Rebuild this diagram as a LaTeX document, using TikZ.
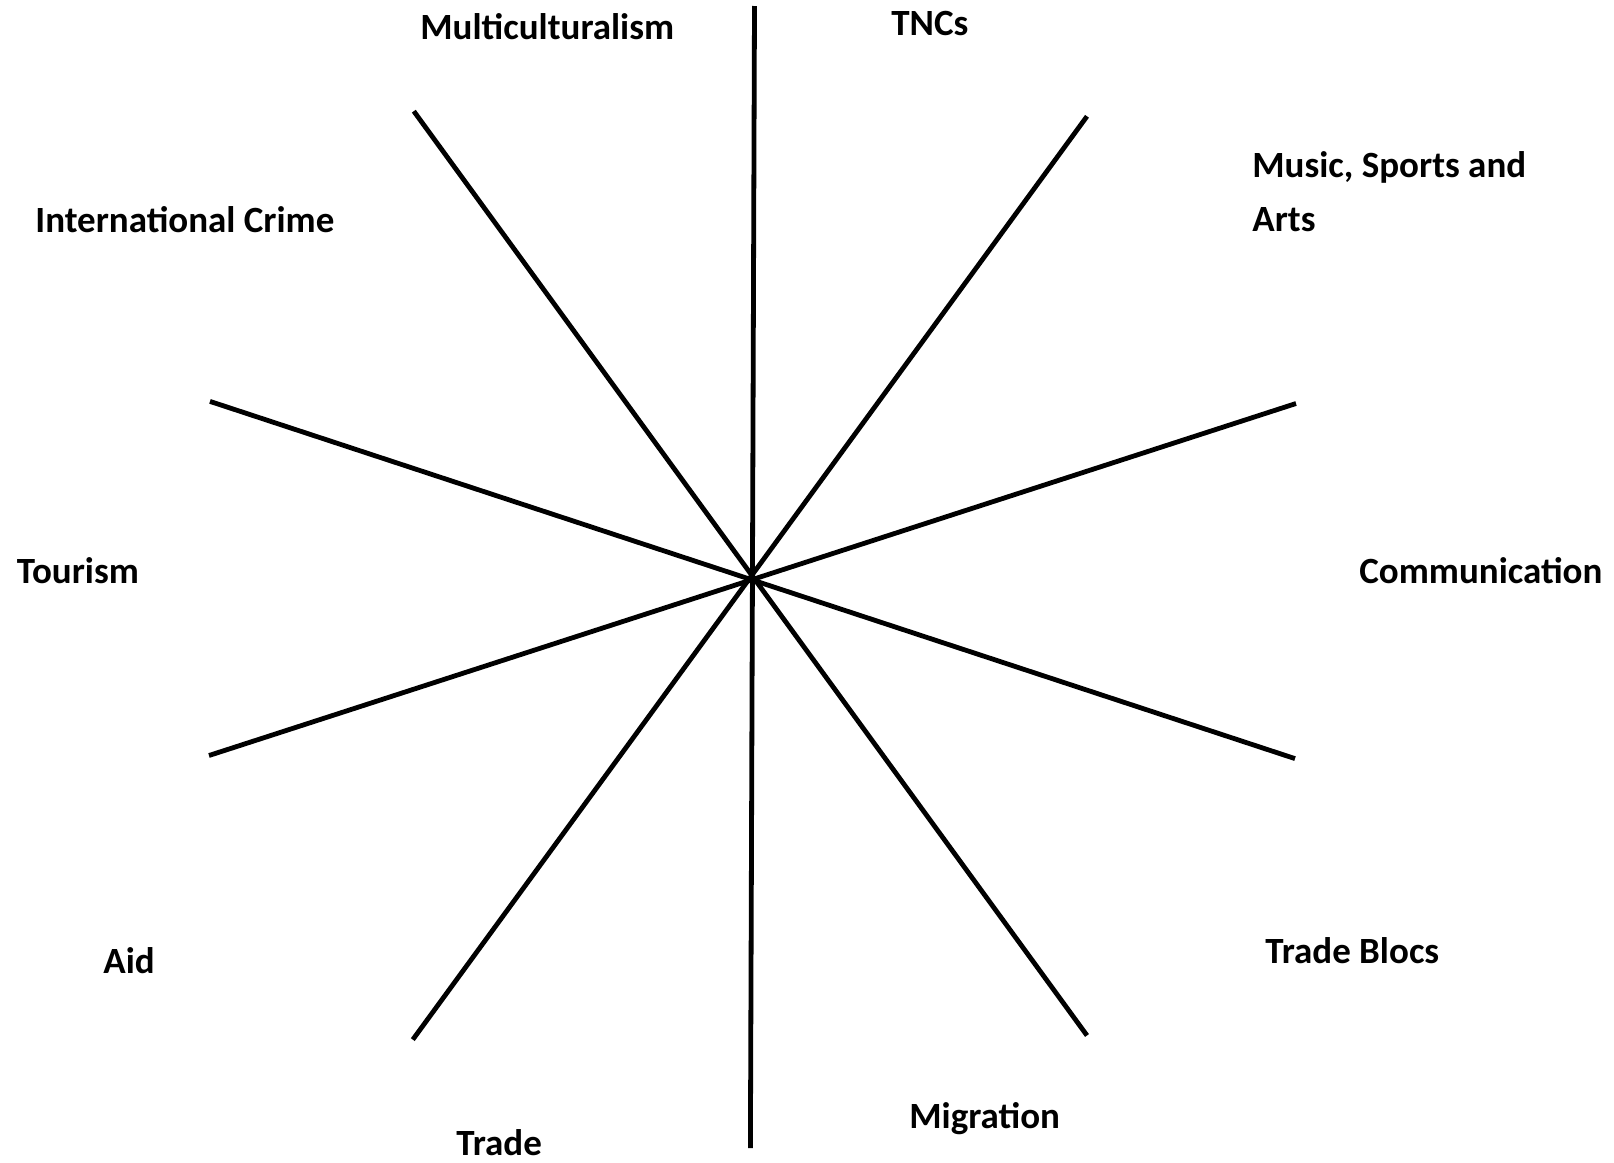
\documentclass[tikz,border=0pt]{standalone}
\usepackage{fontspec}
\setmainfont{Carlito}
\begin{document}
\begin{tikzpicture}[x=0.5pt,y=-0.5pt,
  ray/.style={line width=2.4pt,black},
  lbl/.style={anchor=base west,inner sep=0pt,font=\fontsize{18.5pt}{26.75pt}\selectfont\bfseries,align=left}]
\useasboundingbox (0,0) rectangle (1614,1163);
\coordinate (v1) at (754.5,6);
\coordinate (v2) at (750.4,1148);
\coordinate (a1) at (413.8,111.2);
\coordinate (a2) at (1087,1035.5);
\coordinate (b1) at (1087,116.3);
\coordinate (b2) at (412.8,1039.6);
\coordinate (c1) at (210,401.4);
\coordinate (c2) at (1295,758.6);
\coordinate (d1) at (1296,403.5);
\coordinate (d2) at (209,755.5);
\draw[ray] (v1) -- (v2);
\draw[ray] (a1) -- (a2);
\draw[ray] (b1) -- (b2);
\draw[ray] (c1) -- (c2);
\draw[ray] (d1) -- (d2);
\node[lbl] (multi) at (420,39) {Multiculturalism};
\node[lbl] (tncs) at (891,35) {TNCs};
\node[lbl] (music) at (1252,231) {Music, Sports and\\Arts};
\node[lbl] (crime) at (35,232) {International Crime};
\node[lbl] (tour) at (16.5,583) {Tourism};
\node[lbl] (comm) at (1359,583) {Communication};
\node[lbl] (aid) at (103,973) {Aid};
\node[lbl] (blocs) at (1265,963) {Trade Blocs};
\node[lbl] (migr) at (909,1128) {Migration};
\node[lbl] (trade) at (456,1155) {Trade};
\end{tikzpicture}
\end{document}
